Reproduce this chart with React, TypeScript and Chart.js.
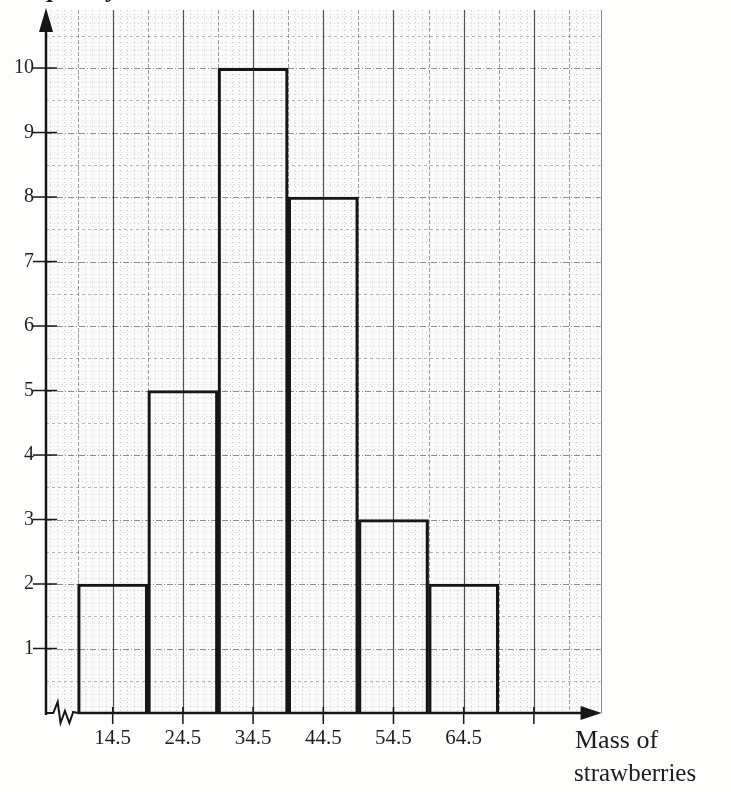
import React, { useEffect, useRef } from "react";
import { Chart, registerables } from "chart.js";

Chart.register(...registerables);

// ---- data ----
const classMidpoints = [14.5, 24.5, 34.5, 44.5, 54.5, 64.5];
const frequencies = [2, 5, 10, 8, 3, 2];
const xTickValues = [14.5, 24.5, 34.5, 44.5, 54.5, 64.5, 74.5];
const xTickLabels = ["14.5", "24.5", "34.5", "44.5", "54.5", "64.5", ""];
const yTickValues = [1, 2, 3, 4, 5, 6, 7, 8, 9, 10];
const xAxisTitle = ["Mass of", "strawberries"];
const yAxisTitle = "Frequency";

// axis ranges
const X_MIN = 5;
const X_MAX = 100.3;
const X_BREAK_END = 9.5;
const X_PAPER_END = 84;
const X_ARROW_END = 84;
const Y_MAX = 10.9;

const SERIF = "'Liberation Serif', 'DejaVu Serif', serif";
const INK = "#161616";

const paperPlugin = {
  id: "paper",
  beforeDatasetsDraw(chart: any) {
    const { ctx, scales, chartArea } = chart;
    const x = scales.x;
    const y = scales.y;
    const left = x.getPixelForValue(X_MIN);
    const right = x.getPixelForValue(X_PAPER_END);
    const top = chartArea.top;
    const bottom = y.getPixelForValue(0);
    ctx.save();
    ctx.fillStyle = "#fbf9f9";
    ctx.fillRect(left, top, right - left, bottom - top);

    const vline = (v: number, color: string, w: number, dash: number[]) => {
      const px = Math.round(x.getPixelForValue(v)) + 0.5;
      ctx.strokeStyle = color;
      ctx.lineWidth = w;
      ctx.setLineDash(dash);
      ctx.beginPath();
      ctx.moveTo(px, top);
      ctx.lineTo(px, bottom);
      ctx.stroke();
    };
    const hline = (v: number, color: string, w: number, dash: number[]) => {
      const py = Math.round(y.getPixelForValue(v)) + 0.5;
      ctx.strokeStyle = color;
      ctx.lineWidth = w;
      ctx.setLineDash(dash);
      ctx.beginPath();
      ctx.moveTo(left, py);
      ctx.lineTo(right, py);
      ctx.stroke();
    };

    // minor verticals every 1 unit
    for (let v = 5.5; v < X_PAPER_END; v += 1) {
      const m = ((v - 4.5) % 5 + 5) % 5;
      if (Math.abs(m) < 1e-6) continue;
      vline(v, "rgba(90,90,90,0.3)", 1, [1, 3]);
    }
    // minor horizontals every 0.1
    for (let k = 1; k < Math.round(Y_MAX * 10); k++) {
      if (k % 5 === 0) continue;
      hline(k / 10, "rgba(90,90,90,0.22)", 1, [1, 3]);
    }
    // half-unit horizontals
    for (let k = 0; k < 11; k++) {
      hline(k + 0.5, "rgba(80,80,80,0.4)", 1, [3, 3]);
    }
    // integer horizontals
    for (let k = 1; k <= 10; k++) {
      hline(k, "rgba(70,70,70,0.6)", 1, [6, 2, 1, 2]);
    }
    // medium verticals (5-unit offsets)
    for (let v = 9.5; v < X_PAPER_END; v += 10) {
      vline(v, "rgba(70,70,70,0.5)", 1, [4, 2]);
    }
    // major verticals every 10 units
    for (let v = 14.5; v < X_PAPER_END; v += 10) {
      vline(v, "rgba(40,40,40,0.8)", 1.2, []);
    }
    // paper right edge
    vline(X_PAPER_END, "rgba(60,60,60,0.6)", 1, []);
    ctx.restore();
  },
  afterDatasetsDraw(chart: any) {
    const { ctx, scales, chartArea } = chart;
    const x = scales.x;
    const y = scales.y;
    const ax = x.getPixelForValue(X_MIN);
    const ay = y.getPixelForValue(0);
    const bx = x.getPixelForValue(X_BREAK_END);
    const ex = x.getPixelForValue(X_ARROW_END);
    const ty = chartArea.top;
    ctx.save();
    ctx.strokeStyle = INK;
    ctx.fillStyle = INK;
    ctx.lineWidth = 2.5;
    ctx.setLineDash([]);
    ctx.lineJoin = "miter";

    // y axis
    ctx.beginPath();
    ctx.moveTo(ax, ay + 2);
    ctx.lineTo(ax, ty + 18);
    ctx.stroke();
    ctx.beginPath();
    ctx.moveTo(ax, ty - 2);
    ctx.lineTo(ax - 7, ty + 22);
    ctx.lineTo(ax + 7, ty + 22);
    ctx.closePath();
    ctx.fill();

    // zigzag break
    const w = bx - ax;
    const zz = [
      [0, 0], [0.23, 0], [0.37, -11], [0.46, 10], [0.6, -2], [0.74, 10], [0.86, -1], [1, 0],
    ];
    ctx.lineWidth = 2;
    ctx.beginPath();
    zz.forEach(([f, d], i) => {
      const px = ax + f * w;
      const py = ay + d;
      if (i === 0) ctx.moveTo(px, py);
      else ctx.lineTo(px, py);
    });
    ctx.stroke();

    // x axis
    ctx.lineWidth = 2.5;
    ctx.beginPath();
    ctx.moveTo(bx, ay);
    ctx.lineTo(ex - 16, ay);
    ctx.stroke();
    ctx.beginPath();
    ctx.moveTo(ex + 1, ay);
    ctx.lineTo(ex - 20, ay - 7);
    ctx.lineTo(ex - 20, ay + 7);
    ctx.closePath();
    ctx.fill();

    // y tick marks
    ctx.lineWidth = 1.5;
    yTickValues.forEach((v) => {
      const py = y.getPixelForValue(v);
      ctx.beginPath();
      ctx.moveTo(ax - 13, py);
      ctx.lineTo(ax + 11, py);
      ctx.stroke();
    });
    // x tick marks
    xTickValues.forEach((v) => {
      const px = x.getPixelForValue(v);
      ctx.beginPath();
      ctx.moveTo(px, ay - 6);
      ctx.lineTo(px, ay + 11);
      ctx.stroke();
    });

    // axis titles
    ctx.fillStyle = "#1c1c1c";
    ctx.textAlign = "left";
    ctx.textBaseline = "alphabetic";
    ctx.font = `26px ${SERIF}`;
    ctx.fillText(xAxisTitle[0], 575, 748);
    ctx.font = `25px ${SERIF}`;
    ctx.fillText(xAxisTitle[1], 574, 781);
    ctx.font = `bold 26px ${SERIF}`;
    ctx.fillText(yAxisTitle, 0, -3);
    ctx.restore();
  },
};

export default function App() {
  const ref = useRef<HTMLCanvasElement | null>(null);

  useEffect(() => {
    if (!ref.current) return;
    const chart = new Chart(ref.current, {
      type: "bar",
      data: {
        datasets: [
          {
            label: "Frequency",
            data: classMidpoints.map((m, i) => ({ x: m, y: frequencies[i] })),
            backgroundColor: "rgba(0,0,0,0)",
            borderColor: INK,
            borderWidth: 2.5,
            barPercentage: 1,
            categoryPercentage: 1,
          } as any,
        ],
      },
      options: {
        animation: false,
        responsive: true,
        maintainAspectRatio: false,
        layout: { padding: { top: 10, right: 16, left: 0, bottom: 0 } },
        plugins: {
          legend: { display: false },
          tooltip: { enabled: false },
        },
        scales: {
          x: {
            type: "linear",
            offset: false,
            min: X_MIN,
            max: X_MAX,
            grid: { display: false, drawTicks: false, offset: false },
            border: { display: false },
            afterBuildTicks: (s: any) => {
              s.ticks = xTickValues.map((v) => ({ value: v }));
            },
            afterFit: (s: any) => {
              s.height = 79;
              s.paddingLeft = 0;
              s.paddingRight = 0;
            },
            ticks: {
              autoSkip: false,
              maxRotation: 0,
              padding: 13,
              color: "#1e1e1e",
              font: { family: SERIF, size: 21 },
              callback: (v: any) => {
                const i = xTickValues.indexOf(Number(v));
                return i >= 0 ? xTickLabels[i] : "";
              },
            },
          },
          y: {
            min: 0,
            max: Y_MAX,
            grid: { display: false, drawTicks: false },
            border: { display: false },
            afterBuildTicks: (s: any) => {
              s.ticks = yTickValues.map((v) => ({ value: v }));
            },
            afterFit: (s: any) => {
              s.width = 46;
              s.paddingTop = 0;
              s.paddingBottom = 0;
            },
            ticks: {
              autoSkip: false,
              padding: 12,
              color: "#1e1e1e",
              font: { family: SERIF, size: 20 },
              callback: (v: any) => String(v),
            },
          },
        },
      },
      plugins: [paperPlugin],
    });
    return () => chart.destroy();
  }, []);

  return (
    <div
      style={{
        position: "fixed",
        left: 0,
        top: 0,
        width: 731,
        height: 792,
        background: "#fdfdfb",
      }}
    >
      <canvas ref={ref} />
    </div>
  );
}
